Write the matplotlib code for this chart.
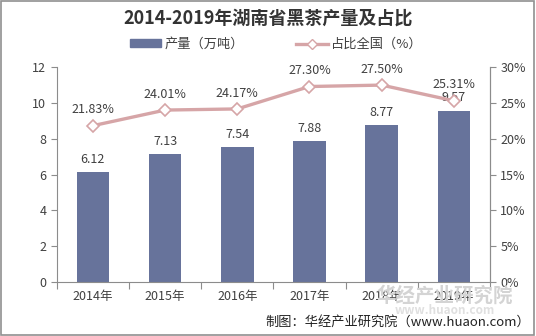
import matplotlib.pyplot as plt
from matplotlib.patches import Rectangle
from matplotlib.lines import Line2D

plt.rcParams['font.family'] = ['Noto Sans CJK SC', 'DejaVu Sans']

years = ['2014年', '2015年', '2016年', '2017年', '2018年', '2019年']
output = [6.12, 7.13, 7.54, 7.88, 8.77, 9.57]
share = [21.83, 24.01, 24.17, 27.30, 27.50, 25.31]

bar_color = '#67739b'
line_color = '#d6a5a7'
text_color = '#404040'
axis_color = '#8c8c8c'

fig = plt.figure(figsize=(5.36, 3.36), dpi=100)
ax = fig.add_axes([0.106, 0.161, 0.808, 0.639])
ax2 = ax.twinx()

x = list(range(len(years)))
ax.bar(x, output, width=0.45, color=bar_color, zorder=2)
for xi, v in zip(x, output):
    ax.text(xi, v + 0.35, f'{v:.2f}', ha='center', va='bottom', fontsize=9, color=text_color)

ax2.plot(x, share, color=line_color, lw=2.4, marker='D', ms=6,
         markerfacecolor='white', markeredgecolor=line_color, markeredgewidth=1.2, zorder=3)
for xi, v in zip(x, share):
    ax2.text(xi, v + 1.3, f'{v:.2f}%', ha='center', va='bottom', fontsize=9, color=text_color)

ax.set_xlim(-0.5, 5.5)
ax.set_ylim(0, 12)
ax.set_yticks(range(0, 13, 2))
ax2.set_ylim(0, 30)
ax2.set_yticks(range(0, 31, 5))
ax2.set_yticklabels([f'{t}%' for t in range(0, 31, 5)])

ax.set_xticks([i - 0.5 for i in range(7)], minor=False)
ax.set_xticklabels([])
ax.set_xticks(x, minor=True)
ax.set_xticklabels(years, minor=True)
ax.tick_params(axis='x', which='minor', length=0, labelsize=9, colors=text_color, pad=6)
ax.tick_params(axis='x', which='major', length=5, color=axis_color)

for a in (ax, ax2):
    a.spines['top'].set_visible(False)
    for s in ('left', 'right', 'bottom'):
        a.spines[s].set_color(axis_color)
    a.tick_params(axis='y', labelsize=9, labelcolor=text_color, color=axis_color, length=4)
ax2.spines['left'].set_visible(False)
ax2.spines['bottom'].set_visible(False)

fig.text(0.5, 0.945, '2014-2019年湖南省黑茶产量及占比', ha='center', va='center',
         fontsize=13, fontweight='bold', color='#333333')

handles = [Rectangle((0, 0), 1, 1, color=bar_color),
           Line2D([], [], color=line_color, lw=2.4, marker='D', ms=5,
                  markerfacecolor='white', markeredgecolor=line_color)]
fig.legend(handles, ['产量（万吨）', '占比全国（%）'], loc='center', bbox_to_anchor=(0.515, 0.868),
           ncol=2, frameon=False, fontsize=9.5, handlelength=2.4, handleheight=0.5,
           columnspacing=4.0, handletextpad=0.2, labelcolor=text_color)

fig.text(0.83, 0.12, '华经产业研究院', ha='center', va='center', fontsize=14,
         color='#d4d4d4', fontweight='bold', zorder=0)
fig.text(0.83, 0.075, 'www.huaon.com', ha='center', va='center', fontsize=8.5,
         color='#e0e0e0', fontweight='bold', zorder=0)
fig.text(0.99, 0.04, '制图：华经产业研究院（www.huaon.com）', ha='right', va='center',
         fontsize=9.5, color='#222222')

fig.patches.append(Rectangle((0.002, 0.003), 0.995, 0.994, transform=fig.transFigure,
                             fill=False, edgecolor='#909090', lw=1.2))

fig.savefig('out.png', dpi=100)
